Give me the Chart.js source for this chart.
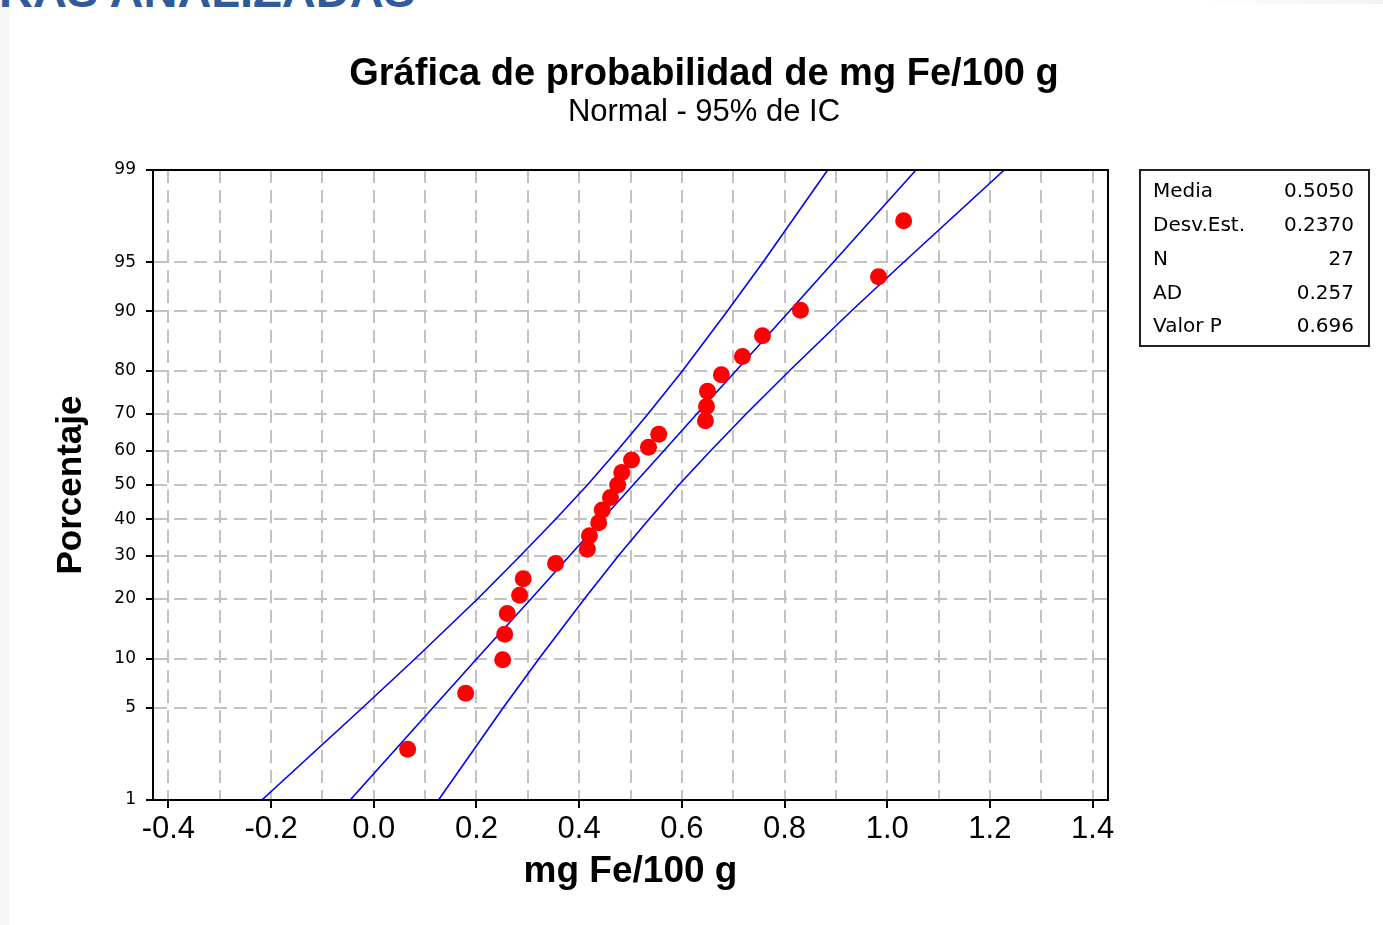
<!DOCTYPE html>
<html lang="es">
<head>
<meta charset="utf-8">
<title>Gráfica de probabilidad de mg Fe/100 g</title>
<script src="https://cdn.jsdelivr.net/npm/chart.js@4.4.1/dist/chart.umd.min.js"></script>
<style>
  html, body { margin: 0; padding: 0; background: #fff; overflow: hidden; }
  #wrap { position: relative; width: 1383px; height: 925px; overflow: hidden; }
  #strip { position: absolute; left: 0; top: 0; width: 10px; height: 925px; background: #f7f7f7; }
  #topbar { position: absolute; left: 1200px; top: 0; width: 183px; height: 4px;
            background: linear-gradient(to right, #ffffff, #f2f2f2); }
  #heading { position: absolute; right: 968px; top: -33px; white-space: nowrap;
             font: bold 47px/47px "Liberation Sans", Arial, sans-serif; color: #2f5b9c; }
  canvas { position: absolute; left: 0; top: 0; }
</style>
</head>
<body>
<div id="wrap">
  <div id="strip"></div>
  <div id="topbar"></div>
  <div id="heading">MUESTRAS ANALIZADAS</div>
  <canvas id="probChart" width="1383" height="925"></canvas>
</div>
<script>
/* Gráfica de probabilidad normal – mg Fe/100 g (Minitab style) */

// observaciones (mg Fe/100 g) y su posición de graficación (%)
var FE = [0.066, 0.179, 0.251, 0.255, 0.260, 0.284, 0.291, 0.354, 0.416, 0.420,
          0.438, 0.445, 0.461, 0.475, 0.483, 0.502, 0.535, 0.555, 0.646, 0.648,
          0.650, 0.677, 0.718, 0.757, 0.831, 0.983, 1.032];
var PCT = [2.55, 6.20, 9.85, 13.50, 17.15, 20.80, 24.45, 28.10, 31.75, 35.40,
           39.05, 42.70, 46.35, 50.00, 53.65, 57.30, 60.95, 64.60, 68.25, 71.90,
           75.55, 79.20, 82.85, 86.50, 90.15, 93.80, 97.45];

var LINE_PCT = [1, 5, 10, 20, 30, 40, 50, 60, 70, 80, 90, 95, 99];
var FIT      = [-0.046, 0.115, 0.201, 0.306, 0.381, 0.445, 0.505, 0.565, 0.629, 0.705, 0.809, 0.895, 1.056];
var CI_LOW   = [-0.218, -0.022, 0.081, 0.202, 0.285, 0.354, 0.416, 0.474, 0.534, 0.601, 0.688, 0.758, 0.884];
var CI_HIGH  = [0.126, 0.252, 0.322, 0.410, 0.476, 0.536, 0.594, 0.656, 0.725, 0.809, 0.929, 1.032, 1.228];

// ejes
var Y_TICKS = [1, 5, 10, 20, 30, 40, 50, 60, 70, 80, 90, 95, 99];
var X_TICKS = [-0.4, -0.3, -0.2, -0.1, 0.0, 0.1, 0.2, 0.3, 0.4, 0.5, 0.6, 0.7, 0.8, 0.9, 1.0, 1.1, 1.2, 1.3, 1.4];
var X_MIN = -0.43, X_MAX = 1.43;

// cuadro de estadísticas
var STAT_NAMES  = ['Media', 'Desv.Est.', 'N', 'AD', 'Valor P'];
var STAT_VALUES = ['0.5050', '0.2370', '27', '0.257', '0.696'];

var TITLE = 'Gráfica de probabilidad de mg Fe/100 g';
var SUBTITLE = 'Normal - 95% de IC';

// inverse normal CDF (Acklam) – maps percent to the probability scale
function probit(p) {
  var a = [-3.969683028665376e+01, 2.209460984245205e+02, -2.759285104469687e+02,
           1.383577518672690e+02, -3.066479806614716e+01, 2.506628277459239e+00];
  var b = [-5.447609879822406e+01, 1.615858368580409e+02, -1.556989798598866e+02,
           6.680131188771972e+01, -1.328068155288572e+01];
  var c = [-7.784894002430293e-03, -3.223964580411365e-01, -2.400758277161838e+00,
           -2.549732539343734e+00, 4.374664141464968e+00, 2.938163982698783e+00];
  var d = [7.784695709041462e-03, 3.224671290700398e-01, 2.445134137142996e+00,
           3.754408661907416e+00];
  var pl = 0.02425, q, r;
  if (p < pl) {
    q = Math.sqrt(-2 * Math.log(p));
    return (((((c[0] * q + c[1]) * q + c[2]) * q + c[3]) * q + c[4]) * q + c[5]) /
           ((((d[0] * q + d[1]) * q + d[2]) * q + d[3]) * q + 1);
  }
  if (p > 1 - pl) {
    q = Math.sqrt(-2 * Math.log(1 - p));
    return -(((((c[0] * q + c[1]) * q + c[2]) * q + c[3]) * q + c[4]) * q + c[5]) /
            ((((d[0] * q + d[1]) * q + d[2]) * q + d[3]) * q + 1);
  }
  q = p - 0.5; r = q * q;
  return (((((a[0] * r + a[1]) * r + a[2]) * r + a[3]) * r + a[4]) * r + a[5]) * q /
         (((((b[0] * r + b[1]) * r + b[2]) * r + b[3]) * r + b[4]) * r + 1);
}

function toPoints(xs, ps) {
  return xs.map(function (x, i) { return { x: x, y: probit(ps[i] / 100) }; });
}

var GRID_GRAY = '#c2c2c2';
var SANS = '"Liberation Sans", Arial, sans-serif';
var SMALL = '"DejaVu Sans", Verdana, sans-serif';

function lineSet(label, xs) {
  return {
    label: label,
    data: toPoints(xs, LINE_PCT),
    showLine: true,
    pointRadius: 0,
    borderColor: '#0000ff',
    borderWidth: 1.6,
    fill: false,
    order: 1,
  };
}

// frame, titles and stats box
var decorPlugin = {
  id: 'decor',
  afterDraw: function (chart) {
    var ctx = chart.ctx, a = chart.chartArea;
    ctx.save();
    ctx.strokeStyle = '#000';
    ctx.lineWidth = 2;
    ctx.strokeRect(a.left, a.top, a.right - a.left, a.bottom - a.top);

    ctx.fillStyle = '#000';
    ctx.textAlign = 'center';
    ctx.textBaseline = 'alphabetic';
    ctx.font = 'bold 38px ' + SANS;
    ctx.fillText(TITLE, 704, 85);
    ctx.font = '31px ' + SANS;
    ctx.fillText(SUBTITLE, 704, 121);

    ctx.lineWidth = 2;
    ctx.strokeStyle = '#222';
    ctx.strokeRect(1140, 170, 229, 176);
    ctx.font = '20px ' + SMALL;
    ctx.fillStyle = '#000';
    ctx.textBaseline = 'middle';
    STAT_NAMES.forEach(function (name, i) {
      var y = 192 + i * 33.8;
      ctx.textAlign = 'left';
      ctx.fillText(name, 1153, y);
      ctx.textAlign = 'right';
      ctx.fillText(STAT_VALUES[i], 1354, y);
    });
    ctx.restore();
  },
};

new Chart(document.getElementById('probChart'), {
  type: 'scatter',
  data: {
    datasets: [
      {
        label: 'mg Fe/100 g',
        data: toPoints(FE, PCT),
        pointRadius: 8.5,
        pointBackgroundColor: '#ff0000',
        pointBorderWidth: 0,
        order: 0,
      },
      lineSet('Ajuste', FIT),
      lineSet('IC inferior', CI_LOW),
      lineSet('IC superior', CI_HIGH),
    ],
  },
  options: {
    responsive: false,
    animation: false,
    devicePixelRatio: 1,
    layout: { padding: { top: 170, right: 275, bottom: 0, left: 0 } },
    plugins: {
      legend: { display: false },
      tooltip: { enabled: false },
    },
    scales: {
      x: {
        type: 'linear',
        min: X_MIN,
        max: X_MAX,
        afterFit: function (s) { s.height = 125; },
        afterBuildTicks: function (s) {
          s.ticks = X_TICKS.map(function (v) { return { value: v }; });
        },
        ticks: {
          autoSkip: false,
          maxRotation: 0,
          padding: 3,
          color: '#000',
          font: { family: SANS, size: 31 },
          callback: function (v, i) { return i % 2 === 0 ? X_TICKS[i].toFixed(1) : ''; },
        },
        grid: {
          color: GRID_GRAY,
          lineWidth: 2,
          tickLength: 8,
          tickWidth: 2,
          tickColor: function (c) { return c.index % 2 === 0 ? '#000' : 'rgba(0,0,0,0)'; },
        },
        border: { color: '#000', width: 2, dash: [13, 7] },
        title: {
          display: true,
          text: 'mg Fe/100 g',
          color: '#000',
          font: { family: SANS, size: 37, weight: 'bold' },
          padding: { top: 0, bottom: 31 },
        },
      },
      y: {
        type: 'linear',
        min: probit(Y_TICKS[0] / 100),
        max: probit(Y_TICKS[Y_TICKS.length - 1] / 100),
        afterFit: function (s) { s.width = 153; },
        afterBuildTicks: function (s) {
          s.ticks = Y_TICKS.map(function (p) { return { value: probit(p / 100) }; });
        },
        ticks: {
          autoSkip: false,
          padding: 10,
          color: '#000',
          font: { family: SMALL, size: 17 },
          callback: function (v, i) { return String(Y_TICKS[i]); },
        },
        grid: {
          color: function (c) {
            return (c.index === 0 || c.index === Y_TICKS.length - 1) ? 'rgba(0,0,0,0)' : GRID_GRAY;
          },
          lineWidth: 2,
          tickLength: 7,
          tickWidth: 2,
          tickColor: '#000',
        },
        border: { color: '#000', width: 2, dash: [13, 7] },
        title: {
          display: true,
          text: 'Porcentaje',
          color: '#000',
          font: { family: SANS, size: 35, weight: 'bold' },
          padding: { top: 50, bottom: 0 },
        },
      },
    },
  },
  plugins: [decorPlugin],
});
</script>
</body>
</html>
